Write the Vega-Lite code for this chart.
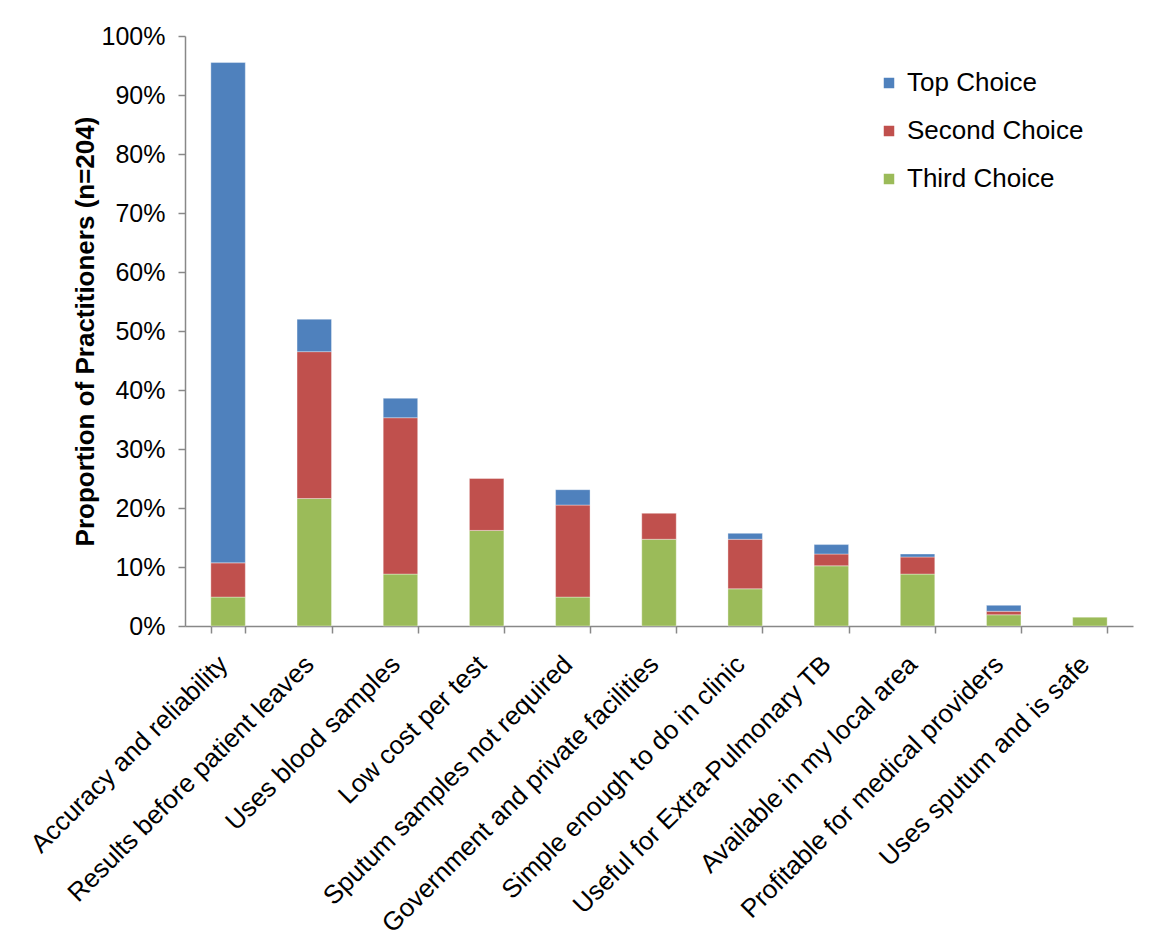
{
  "$schema": "https://vega.github.io/schema/vega-lite/v6.json",
  "autosize": {"type": "none"},
  "padding": {"left": 185, "top": 36, "right": 33, "bottom": 325},
  "width": 948,
  "height": 590,
  "background": "white",
  "config": {
    "font": "Liberation Sans",
    "view": {"stroke": null},
    "axis": {"grid": false, "domainColor": "#888888", "tickColor": "#888888", "domainWidth": 1.5, "tickWidth": 1.5, "labelColor": "#000000", "titleColor": "#000000", "labelFont": "Liberation Sans", "titleFont": "Liberation Sans"}
  },
  "data": {
    "values": [
      {"feature": "Accuracy and reliability", "choice": "Third Choice", "rank": 1, "value": 0.049},
      {"feature": "Accuracy and reliability", "choice": "Second Choice", "rank": 2, "value": 0.058},
      {"feature": "Accuracy and reliability", "choice": "Top Choice", "rank": 3, "value": 0.848},
      {"feature": "Results before patient leaves", "choice": "Third Choice", "rank": 1, "value": 0.216},
      {"feature": "Results before patient leaves", "choice": "Second Choice", "rank": 2, "value": 0.249},
      {"feature": "Results before patient leaves", "choice": "Top Choice", "rank": 3, "value": 0.055},
      {"feature": "Uses blood samples", "choice": "Third Choice", "rank": 1, "value": 0.088},
      {"feature": "Uses blood samples", "choice": "Second Choice", "rank": 2, "value": 0.265},
      {"feature": "Uses blood samples", "choice": "Top Choice", "rank": 3, "value": 0.033},
      {"feature": "Low cost per test", "choice": "Third Choice", "rank": 1, "value": 0.162},
      {"feature": "Low cost per test", "choice": "Second Choice", "rank": 2, "value": 0.088},
      {"feature": "Sputum samples not required", "choice": "Third Choice", "rank": 1, "value": 0.049},
      {"feature": "Sputum samples not required", "choice": "Second Choice", "rank": 2, "value": 0.156},
      {"feature": "Sputum samples not required", "choice": "Top Choice", "rank": 3, "value": 0.026},
      {"feature": "Government and private facilities", "choice": "Third Choice", "rank": 1, "value": 0.147},
      {"feature": "Government and private facilities", "choice": "Second Choice", "rank": 2, "value": 0.044},
      {"feature": "Simple enough to do in clinic", "choice": "Third Choice", "rank": 1, "value": 0.063},
      {"feature": "Simple enough to do in clinic", "choice": "Second Choice", "rank": 2, "value": 0.084},
      {"feature": "Simple enough to do in clinic", "choice": "Top Choice", "rank": 3, "value": 0.010},
      {"feature": "Useful for Extra-Pulmonary TB", "choice": "Third Choice", "rank": 1, "value": 0.102},
      {"feature": "Useful for Extra-Pulmonary TB", "choice": "Second Choice", "rank": 2, "value": 0.020},
      {"feature": "Useful for Extra-Pulmonary TB", "choice": "Top Choice", "rank": 3, "value": 0.016},
      {"feature": "Available in my local area", "choice": "Third Choice", "rank": 1, "value": 0.088},
      {"feature": "Available in my local area", "choice": "Second Choice", "rank": 2, "value": 0.029},
      {"feature": "Available in my local area", "choice": "Top Choice", "rank": 3, "value": 0.005},
      {"feature": "Profitable for medical providers", "choice": "Third Choice", "rank": 1, "value": 0.019},
      {"feature": "Profitable for medical providers", "choice": "Second Choice", "rank": 2, "value": 0.006},
      {"feature": "Profitable for medical providers", "choice": "Top Choice", "rank": 3, "value": 0.010},
      {"feature": "Uses sputum and is safe", "choice": "Third Choice", "rank": 1, "value": 0.015}
    ]
  },
  "mark": {"type": "bar", "stroke": "#ffffff", "strokeOpacity": 0.6, "strokeWidth": 0.6},
  "encoding": {
    "x": {
      "field": "feature",
      "type": "nominal",
      "sort": null,
      "scale": {"paddingInner": 0.6, "paddingOuter": 0.3},
      "axis": {
        "title": null,
        "labelAngle": -45,
        "labelAlign": "right",
        "labelBaseline": "middle",
        "labelFontSize": 26,
        "labelPadding": 27,
        "labelOffset": -5,
        "tickBand": "extent",
        "tickSize": 7,
        "labelLimit": 500
      }
    },
    "y": {
      "field": "value",
      "type": "quantitative",
      "stack": "zero",
      "scale": {"domain": [0, 1], "nice": false},
      "axis": {
        "title": "Proportion of Practitioners (n=204)",
        "titleFontSize": 26,
        "titleFontWeight": "bold",
        "titlePadding": 3,
        "format": ".0%",
        "values": [0, 0.1, 0.2, 0.3, 0.4, 0.5, 0.6, 0.7, 0.8, 0.9, 1.0],
        "labelFontSize": 25,
        "labelPadding": 13,
        "tickSize": 7
      }
    },
    "color": {
      "field": "choice",
      "type": "nominal",
      "scale": {
        "domain": ["Top Choice", "Second Choice", "Third Choice"],
        "range": ["#4F81BD", "#C0504D", "#9BBB59"]
      },
      "legend": {
        "title": null,
        "orient": "none",
        "legendX": 691,
        "legendY": 34,
        "symbolType": "square",
        "symbolSize": 110,
        "symbolStrokeWidth": 0,
        "labelFontSize": 26,
        "labelColor": "#000000",
        "labelOffset": 5,
        "labelLimit": 400,
        "rowPadding": 22
      }
    },
    "order": {"field": "rank", "type": "quantitative", "sort": "ascending"}
  }
}
